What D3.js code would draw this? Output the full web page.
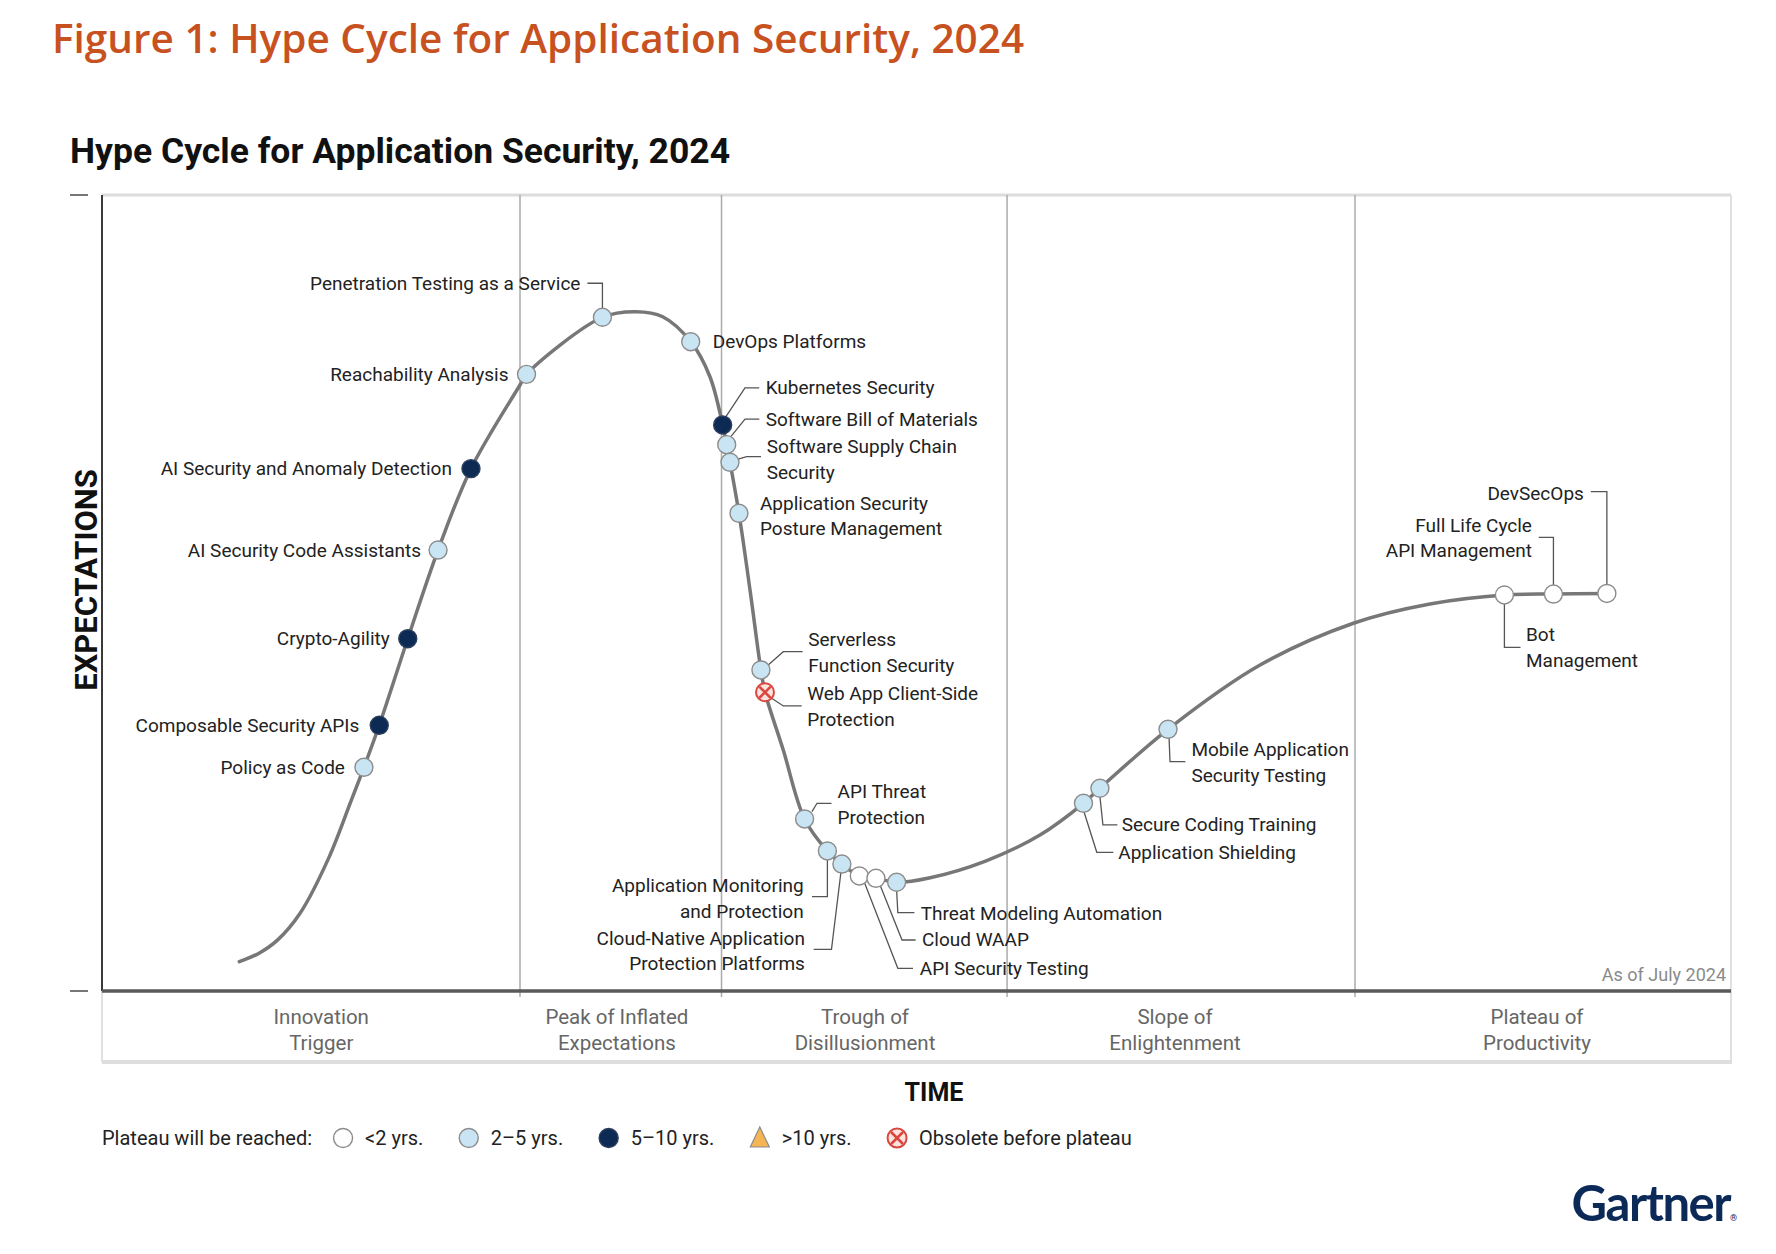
<!DOCTYPE html>
<html><head><meta charset="utf-8">
<script src="https://cdn.jsdelivr.net/npm/d3@7"></script>
<style>
body{margin:0;background:#fff;}
svg{display:block;font-family:Roboto,"Noto Sans",sans-serif;}
</style></head><body>
<svg id="chart" width="1776" height="1254"></svg>
<script>
// ---------------- DATA ----------------
const figureTitle = "Figure 1: Hype Cycle for Application Security, 2024";
const chartTitle = "Hype Cycle for Application Security, 2024";
const phaseNames = [["Innovation","Trigger"],["Peak of Inflated","Expectations"],["Trough of","Disillusionment"],["Slope of","Enlightenment"],["Plateau of","Productivity"]];
const phaseBoundaries = [25.66, 38.03, 55.56, 76.92];
const phaseLabelCenters = [13.46, 31.61, 46.84, 65.87, 88.09];

const curveTime = [8.43, 9.59, 10.77, 12.17, 13.90, 15.29, 16.08, 17.02, 18.77, 20.63, 22.65, 25.66, 26.06, 30.72, 32.78, 34.42, 36.14, 37.32, 38.10, 38.55, 39.10, 39.78, 40.45, 40.70, 41.82, 43.13, 44.53, 45.42, 46.49, 47.51, 48.78, 50.77, 54.24, 57.58, 60.25, 61.26, 65.44, 71.09, 76.86, 81.52, 86.09, 89.10, 92.38];
const curveExpectation = [3.68, 4.69, 6.39, 9.80, 16.63, 23.89, 28.10, 33.38, 44.26, 55.40, 65.62, 76.13, 77.47, 84.64, 85.34, 84.71, 81.57, 77.17, 71.11, 66.42, 60.01, 50.38, 40.33, 37.53, 30.28, 21.61, 17.59, 15.95, 14.45, 14.16, 13.66, 14.20, 16.33, 19.60, 23.58, 25.47, 32.88, 40.95, 46.23, 48.62, 49.75, 49.87, 49.94];

const innovationNames = [
  "Policy as Code","Composable Security APIs","Crypto-Agility","AI Security Code Assistants",
  "AI Security and Anomaly Detection","Reachability Analysis","Penetration Testing as a Service",
  "DevOps Platforms","Kubernetes Security","Software Bill of Materials","Software Supply Chain\nSecurity",
  "Application Security\nPosture Management","Serverless\nFunction Security","Web App Client-Side\nProtection",
  "API Threat\nProtection","Application Monitoring\nand Protection","Cloud-Native Application\nProtection Platforms",
  "API Security Testing","Cloud WAAP","Threat Modeling Automation","Application Shielding",
  "Secure Coding Training","Mobile Application\nSecurity Testing","Bot\nManagement",
  "Full Life Cycle\nAPI Management","DevSecOps"];
const innovationTime = [16.08, 17.02, 18.77, 20.63, 22.65, 26.06, 30.72, 36.14, 38.10, 38.35, 38.55, 39.10, 40.45, 40.70, 43.13, 44.53, 45.42, 46.49, 47.51, 48.78, 60.25, 61.26, 65.44, 86.09, 89.10, 92.38];
const innovationCategory = ["2to5","5to10","5to10","2to5","5to10","2to5","2to5","2to5","5to10","2to5","2to5","2to5","2to5","obsolete","2to5","2to5","2to5","lt2","lt2","2to5","2to5","2to5","2to5","lt2","lt2","lt2"];

const legendTitle = "Plateau will be reached:";
const legendKeys = ["lt2","2to5","5to10","gt10","obsolete"];
const legendLabels = ["<2 yrs.","2\u20135 yrs.","5\u201310 yrs.",">10 yrs.","Obsolete before plateau"];
const asOfText = "As of July 2024";
const xAxisTitle = "TIME";
const yAxisTitle = "EXPECTATIONS";

// ---------------- LAYOUT (label offsets relative to marker, px) ----------------
// [anchor, dx, dy, leader points as [dx,dy] ...]
const labelLayout = [
  ["end",-19,0,null],
  ["end",-20,0,null],
  ["end",-18,0,null],
  ["end",-17,0,null],
  ["end",-19,0,null],
  ["end",-18,0,null],
  ["end",-22,-34,[[-15,-34],[0,-34],[0,-9]]],
  ["start",22,0,null],
  ["start",43,-37,[[3.3,-8.3],[22.3,-37],[36.6,-37]]],
  ["start",39,-25,[[4.3,-8.3],[18.3,-25.5],[32.6,-25.5]]],
  ["start",36.7,-15.6,[[7.3,-3],[16.7,-5.6],[31,-5.6]]],
  ["start",21,-10,null],
  ["start",47.3,-30,[[7.3,-5],[22.3,-18.3],[41.7,-18.3]]],
  ["start",42.3,1.7,[[6.7,6],[18.3,13.7],[36.7,13.7]]],
  ["start",33,-27.3,[[7.4,-7.3],[12.4,-15.7],[26.9,-15.7]]],
  ["end",-23.7,34.7,[[0,9],[0,45.7],[-15.4,45.7]]],
  ["end",-37,74.3,[[-0.9,7.7],[-10.4,85.3],[-28.2,85.3]]],
  ["start",60.5,92.3,[[5.4,7.3],[38.5,92.3],[53.7,92.3]]],
  ["start",46,61.7,[[4.1,6.7],[26.1,61.7],[39.7,61.7]]],
  ["start",24,31,[[0,7.7],[1.2,30.4],[17.8,30.4]]],
  ["start",34.8,49,[[0.5,8.4],[13.3,49],[29.9,49]]],
  ["start",21.7,36.7,[[0,8.4],[3,36.7],[17.5,36.7]]],
  ["start",23.4,20.7,[[1,7.4],[2,32.4],[17.4,32.4]]],
  ["start",21.6,40,[[0,7.7],[0,52.3],[16.1,52.3]]],
  ["end",-21.5,-69,[[-14.7,-56.7],[0,-56.7],[0,-8]]],
  ["end",-23,-100.2,[[-16.1,-101.8],[0,-101.8],[0,-8.5]]]
];

const W = 1776, H = 1254;
const plot = {left:102, right:1731, top:195, bottom:991};
const x = d3.scaleLinear().domain([0,100]).range([plot.left, plot.right]);
const y = d3.scaleLinear().domain([0,100]).range([plot.bottom, plot.top]);

const svg = d3.select("#chart");
const R = 9;
const lineH = 25.5;

// Titles
svg.append("text").attr("x",52).attr("y",53)
  .attr("font-family","'Open Sans',Roboto,sans-serif").attr("font-weight",600)
  .attr("font-size",40.5).attr("fill","#c8521f").text(figureTitle);
svg.append("text").attr("x",70).attr("y",163)
  .attr("font-weight",700).attr("font-size",35.5).attr("fill","#111").text(chartTitle);

// Frame
const g = svg.append("g");
g.append("line").attr("x1",x.range()[0]).attr("x2",x.range()[1]).attr("y1",y.range()[1]).attr("y2",y.range()[1])
  .attr("stroke","#dcdcdc").attr("stroke-width",3);
g.append("line").attr("x1",x.range()[1]).attr("x2",x.range()[1]).attr("y1",y.range()[1]).attr("y2",plot.bottom+71)
  .attr("stroke","#e0e0e0").attr("stroke-width",2);
g.append("line").attr("x1",x.range()[0]).attr("x2",x.range()[0]).attr("y1",plot.bottom).attr("y2",plot.bottom+71)
  .attr("stroke","#e0e0e0").attr("stroke-width",2);
g.append("line").attr("x1",x.range()[0]).attr("x2",x.range()[1]+1).attr("y1",plot.bottom+71).attr("y2",plot.bottom+71)
  .attr("stroke","#dedede").attr("stroke-width",4);

// dividers
g.selectAll(".div").data(phaseBoundaries).join("line")
  .attr("x1",d=>x(d)).attr("x2",d=>x(d)).attr("y1",plot.top).attr("y2",plot.bottom+6)
  .attr("stroke","#ababab").attr("stroke-width",1.5);

// axes
g.append("line").attr("x1",plot.left).attr("x2",plot.left).attr("y1",plot.top).attr("y2",plot.bottom)
  .attr("stroke","#3a3a3a").attr("stroke-width",2);
g.append("line").attr("x1",plot.left).attr("x2",plot.right).attr("y1",plot.bottom).attr("y2",plot.bottom)
  .attr("stroke","#5a5a5a").attr("stroke-width",3.5);
g.selectAll(".tk").data(y.domain()).join("line")
  .attr("x1",70).attr("x2",88).attr("y1",d=>y(d)).attr("y2",d=>y(d))
  .attr("stroke","#777").attr("stroke-width",2);

// phase labels
phaseNames.forEach((lines,i)=>{
  const t = g.append("text").attr("text-anchor","middle").attr("font-size",20.5).attr("fill","#666");
  lines.forEach((s,j)=>t.append("tspan").attr("x",x(phaseLabelCenters[i])).attr("y",plot.bottom+26+j*26)
    .attr("dominant-baseline","central").text(s));
});

// axis titles
svg.append("text").attr("x",934).attr("y",1092).attr("text-anchor","middle").attr("dominant-baseline","central")
  .attr("font-weight",700).attr("font-size",25).attr("fill","#111").text(xAxisTitle);
svg.append("text").attr("transform","translate(86,580) rotate(-90)").attr("text-anchor","middle")
  .attr("dominant-baseline","central").attr("font-weight",700).attr("font-size",31).attr("fill","#111").text(yAxisTitle);

svg.append("text").attr("x",1726).attr("y",974).attr("text-anchor","end").attr("dominant-baseline","central")
  .attr("font-size",18).attr("fill","#8a8a8a").text(asOfText);

// Curve
const curveData = curveTime.map((t,i)=>[t,curveExpectation[i]]);
const line = d3.line().x(d=>x(d[0])).y(d=>y(d[1])).curve(d3.curveCatmullRom.alpha(0.5));
const path = g.append("path").attr("d",line(curveData)).attr("fill","none")
  .attr("stroke","#777").attr("stroke-width",3.5).attr("stroke-linecap","round");
const pnode = path.node();
const L = pnode.getTotalLength();
function pointAtX(px){
  let lo=0, hi=L;
  for(let k=0;k<50;k++){const mid=(lo+hi)/2; const p=pnode.getPointAtLength(mid); if(p.x<px) lo=mid; else hi=mid;}
  return pnode.getPointAtLength((lo+hi)/2);
}

const marks = innovationTime.map((t,i)=>{const p=pointAtX(x(t)); return {x:p.x,y:p.y,name:innovationNames[i],cat:innovationCategory[i],lay:labelLayout[i]};});

// leaders
const lg = g.append("g");
marks.forEach(m=>{
  if(!m.lay[3]) return;
  lg.append("polyline").attr("points",m.lay[3].map(p=>(m.x+p[0])+","+(m.y+p[1])).join(" "))
    .attr("fill","none").attr("stroke","#555").attr("stroke-width",1.3);
});

// labels
marks.forEach(m=>{
  const [anchor,dx,dy] = m.lay;
  const t = g.append("text").attr("text-anchor",anchor).attr("font-size",19).attr("fill","#222");
  m.name.split("\n").forEach((s,j)=>t.append("tspan").attr("x",m.x+dx).attr("y",m.y+dy+j*lineH)
    .attr("dominant-baseline","central").text(s));
});

// markers
const styles = {
  lt2:{fill:"#ffffff",stroke:"#8c8c8c"},
  "2to5":{fill:"#c9e5f3",stroke:"#8c8c8c"},
  "5to10":{fill:"#0d2a54",stroke:"#2b3f5c"},
  gt10:{fill:"#f6b553",stroke:"#8c8c8c"},
  obsolete:{fill:"#fbe3e0",stroke:"#d9473f"}
};
function drawSymbol(sel,cx,cy,cat,r){
  const s = styles[cat];
  if(cat==="gt10"){
    sel.append("path").attr("d",`M${cx},${cy-11}L${cx+9.5},${cy+9}L${cx-9.5},${cy+9}Z`)
      .attr("fill",s.fill).attr("stroke",s.stroke).attr("stroke-width",1.2);
    return;
  }
  sel.append("circle").attr("cx",cx).attr("cy",cy).attr("r",r).attr("fill",s.fill)
    .attr("stroke",s.stroke).attr("stroke-width",cat==="obsolete"?2:1.4);
  if(cat==="obsolete"){
    const d=r*0.55;
    sel.append("path").attr("d",`M${cx-d},${cy-d}L${cx+d},${cy+d}M${cx+d},${cy-d}L${cx-d},${cy+d}`)
      .attr("stroke","#d9473f").attr("stroke-width",2.6).attr("stroke-linecap","round");
  }
}
const mg = g.append("g");
marks.forEach(m=>drawSymbol(mg,m.x,m.y,m.cat,R));

// legend
const legY = 1138;
const leg = svg.append("g").attr("font-size",20).attr("fill","#222");
const lt = leg.append("text").attr("x",102).attr("y",legY).attr("dominant-baseline","central").text(legendTitle);
let cx = 102 + lt.node().getComputedTextLength() + 31;
legendKeys.forEach((k,i)=>{
  drawSymbol(leg,cx,legY,k,9.5);
  const tt = leg.append("text").attr("x",cx+22).attr("y",legY).attr("dominant-baseline","central").text(legendLabels[i]);
  cx = cx + 22 + tt.node().getComputedTextLength() + 45.5;
});

// logo
svg.append("text").attr("x",1730).attr("y",1221).attr("text-anchor","end")
  .attr("font-family","Lato,Roboto,sans-serif").attr("font-weight",700).attr("font-size",49)
  .attr("letter-spacing",-1.5).attr("fill","#0b2a57").text("Gartner");
svg.append("text").attr("x",1730).attr("y",1221).attr("font-size",9).attr("fill","#0b2a57").text("\u00AE");
</script>
</body></html>
